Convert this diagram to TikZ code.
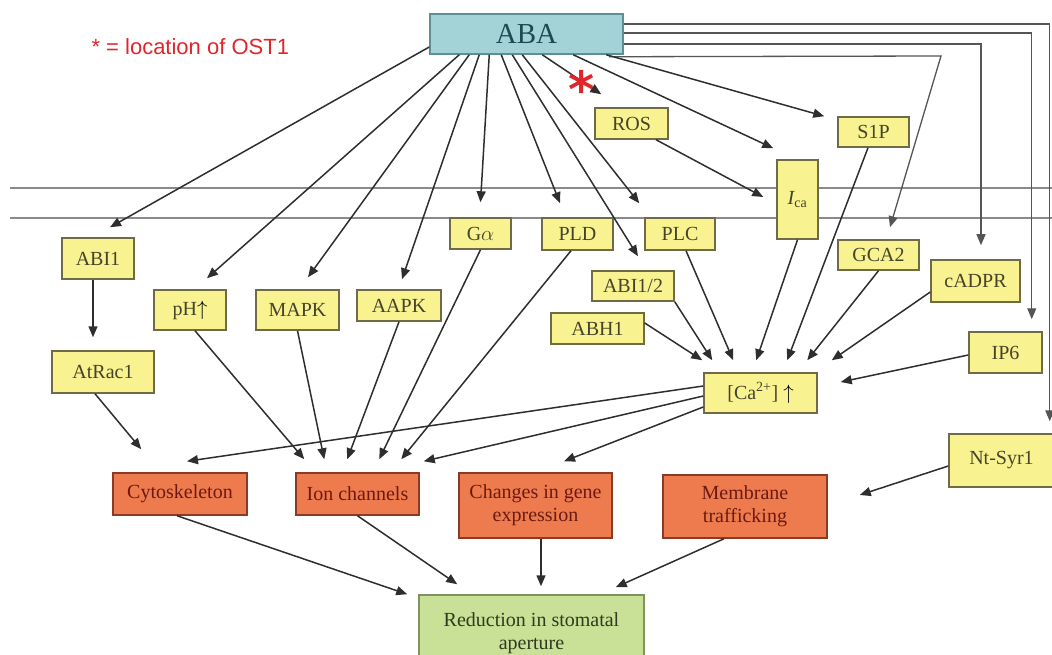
\documentclass[tikz,border=0pt]{standalone}
\usepackage{fontspec}
\setmainfont{Liberation Serif}
\newfontfamily\legendfont{Liberation Sans}
\newfontfamily\starfont{DejaVu Sans}
\usetikzlibrary{arrows.meta}
\definecolor{boxyellow}{HTML}{F8F290}
\definecolor{yellowedge}{HTML}{6E6B45}
\definecolor{yellowtext}{HTML}{45432A}
\definecolor{boxorange}{HTML}{EE7B4E}
\definecolor{orangeedge}{HTML}{8B3A28}
\definecolor{orangetext}{HTML}{6B1A12}
\definecolor{boxgreen}{HTML}{C8E196}
\definecolor{greenedge}{HTML}{7E9460}
\definecolor{greentext}{HTML}{2F3A20}
\definecolor{boxteal}{HTML}{A3D2D7}
\definecolor{tealedge}{HTML}{5E8F96}
\definecolor{tealtext}{HTML}{1E4A50}
\definecolor{legendred}{HTML}{E0252B}
\definecolor{linegray}{HTML}{2E2E2E}
\definecolor{wiregray}{HTML}{555555}
\definecolor{membgray}{HTML}{8A8A8A}

\begin{document}
\begin{tikzpicture}[x=1pt,y=-1pt,
    ybox/.style={draw=yellowedge, fill=boxyellow, line width=1.5pt, text=yellowtext,
      font=\fontsize{20}{23}\selectfont, inner sep=0pt, align=center},
    obox/.style={ybox, draw=orangeedge, fill=boxorange, text=orangetext},
    gbox/.style={ybox, draw=greenedge, fill=boxgreen, text=greentext},
    abox/.style={ybox, draw=tealedge, fill=boxteal, text=tealtext, font=\fontsize{29}{32}\selectfont},
    arr/.style={draw=linegray, line width=1.5pt, -{Triangle[length=11pt,width=9pt]}},
    wirearr/.style={arr, draw=wiregray, line width=1.3pt},
    membrane/.style={draw=membgray, line width=1.3pt}]
\useasboundingbox (0,0) rectangle (1052,655);
% 膜
\draw[membrane] (10,188) -- (1052,188);
\draw[membrane] (10,218) -- (1052,218);
% 说明
\node[anchor=base west, text=legendred, font=\legendfont\fontsize{22}{24}\selectfont] (legend) at (88,55) {* = location of OST1};
% 节点
\node[abox, minimum width=193pt, minimum height=40pt] (aba) at (526.5,34) {ABA};
\node[ybox, minimum width=73pt, minimum height=31pt] (ros) at (631.5,123.5) {ROS};
\node[ybox, minimum width=71pt, minimum height=30pt] (sip) at (873.5,132) {S1P};
\node[ybox, minimum width=41pt, minimum height=79pt] (ica) at (797.5,199.5) {{\itshape I}\textsubscript{ca}};
\node[ybox, minimum width=81pt, minimum height=30pt] (gca) at (878.5,255) {GCA2};
\node[ybox, minimum width=89pt, minimum height=42pt] (cadpr) at (975.5,281) {cADPR};
\node[ybox, minimum width=73pt, minimum height=41pt] (ipsix) at (1005.5,352.5) {IP6};
\node[ybox, minimum width=105pt, minimum height=53pt] (ntsyr) at (1001.5,460.5) {Nt-Syr1};
\node[ybox, minimum width=113pt, minimum height=40pt] (ca) at (760.5,393) {[Ca\textsuperscript{2+}] {\color{black}$\uparrow$}};
\node[ybox, minimum width=70pt, minimum height=32pt] (plc) at (680,234) {PLC};
\node[ybox, minimum width=71pt, minimum height=32pt] (pld) at (577.5,234) {PLD};
\node[ybox, minimum width=61pt, minimum height=31pt] (galpha) at (480.5,233.5) {G$\alpha$};
\node[ybox, minimum width=82pt, minimum height=30pt] (abitwo) at (633,286) {ABI1/2};
\node[ybox, minimum width=93pt, minimum height=31pt] (abh) at (597.5,328.5) {ABH1};
\node[ybox, minimum width=72pt, minimum height=41pt] (abi) at (98,258.5) {ABI1};
\node[ybox, minimum width=102pt, minimum height=42pt] (atrac) at (103,372) {AtRac1};
\node[ybox, minimum width=72pt, minimum height=40pt] (ph) at (190,310) {pH{\color{black}$\uparrow$}};
\node[ybox, minimum width=83pt, minimum height=40pt] (mapk) at (297.5,310) {MAPK};
\node[ybox, minimum width=84pt, minimum height=31pt] (aapk) at (399,305.5) {AAPK};
\node[obox, minimum width=134pt, minimum height=42pt] (cyto) at (180,494) {Cytoskeleton};
\node[obox, minimum width=123pt, minimum height=42pt] (ion) at (357.5,494) {Ion channels};
\node[obox, minimum width=153pt, minimum height=65pt] (gene) at (535.5,505.5) {Changes in gene\\expression};
\node[obox, minimum width=164pt, minimum height=63pt] (memb) at (745,506.5) {Membrane\\trafficking};
\node[gbox, minimum width=225pt, minimum height=77pt] (reduc) at (531.5,633.5) {Reduction in stomatal\\aperture};
% 右侧折线
\coordinate (bend) at (941,56);
\draw[wirearr] ([yshift=10pt]aba.east) -| ([xshift=-5pt,yshift=12pt]ntsyr.north east);
\draw[wirearr] ([yshift=1pt]aba.east) -| ([xshift=-11pt,yshift=12pt]ipsix.north east);
\draw[wirearr] ([yshift=-10pt]aba.east) -| ([xshift=5.5pt,yshift=14pt]cadpr.north);
\draw[wirearr] ([xshift=-15pt,yshift=-2pt]aba.south east) -- (bend) -- ([xshift=11.5pt,yshift=12pt]gca.north);
% ABA 出发的箭头
\draw[arr] ([yshift=-13pt]aba.west) -- ([xshift=12pt,yshift=10pt]abi.north);
\draw[arr] ([xshift=30pt]aba.south west) -- ([xshift=17pt,yshift=11pt]ph.north);
\draw[arr] ([xshift=40pt]aba.south west) -- ([xshift=10.5pt,yshift=12pt]mapk.north);
\draw[arr] ([xshift=50pt]aba.south west) -- ([xshift=3pt,yshift=10pt]aapk.north);
\draw[arr] ([xshift=60pt]aba.south west) -- ([yshift=15pt]galpha.north);
\draw[arr] ([xshift=72pt]aba.south west) -- ([xshift=-17.5pt,yshift=14pt]pld.north);
\draw[arr] ([xshift=83pt]aba.south west) -- ([xshift=5pt,yshift=14pt]abitwo.north);
\draw[arr] ([xshift=93pt]aba.south west) -- ([xshift=-5pt,yshift=14pt]plc.north west);
\draw[arr] ([xshift=113pt]aba.south west) -- ([xshift=7pt,yshift=13pt]ros.north west);
\draw[arr] ([xshift=144pt]aba.south west) -- ([xshift=-3pt,yshift=11pt]ica.north west);
\draw[arr] ([xshift=177pt]aba.south west) -- ([xshift=-13pt]sip.north west);
\draw[arr] ([xshift=24.5pt]ros.south) -- ([xshift=-13pt,yshift=2.5pt]ica.west);
\node[text=legendred, font=\starfont\bfseries\fontsize{50}{50}\selectfont, anchor=base, inner sep=0pt] (ost) at (582,108) {*};
% 汇入 Ca
\draw[arr] ([yshift=5.5pt]abh.east) -- ([xshift=-1pt,yshift=12pt]ca.north west);
\draw[arr] (abitwo.south east) -- ([xshift=9pt,yshift=12pt]ca.north west);
\draw[arr] ([xshift=6pt]plc.south) -- ([xshift=30pt,yshift=12pt]ca.north west);
\draw[arr] (ica.south) -- ([xshift=53pt,yshift=12pt]ca.north west);
\draw[arr] ([xshift=-5.5pt]sip.south) -- ([xshift=84pt,yshift=12pt]ca.north west);
\draw[arr] (gca.south) -- ([xshift=104pt,yshift=12pt]ca.north west);
\draw[arr] ([yshift=-11pt]cadpr.west) -- ([xshift=14pt,yshift=12pt]ca.north east);
\draw[arr] ([yshift=-2.5pt]ipsix.west) -- ([xshift=23pt,yshift=11pt]ca.east);
% 左侧
\draw[arr] ([xshift=-5pt]abi.south) -- ([xshift=-10pt,yshift=13pt]atrac.north);
\draw[arr] ([xshift=-8pt]atrac.south) -- ([xshift=29pt,yshift=23pt]cyto.north west);
% 汇入 Ion channels 等
\draw[arr] ([xshift=5pt]ph.south) -- ([xshift=9pt,yshift=13pt]ion.north west);
\draw[arr] (mapk.south) -- ([xshift=29pt,yshift=13pt]ion.north west);
\draw[arr] (aapk.south) -- ([xshift=52pt,yshift=13pt]ion.north west);
\draw[arr] (galpha.south) -- ([xshift=84pt,yshift=13pt]ion.north west);
\draw[arr] ([xshift=-6.5pt]pld.south) -- ([xshift=106pt,yshift=13pt]ion.north west);
\draw[arr] ([yshift=-3pt]ca.west) -- ([xshift=4pt,yshift=11pt]ion.north east);
\draw[arr] ([yshift=7pt]ca.west) -- ([xshift=7pt,yshift=11pt]cyto.north);
\draw[arr] ([yshift=-14pt]ca.west) -- ([xshift=28.5pt,yshift=11pt]gene.north);
\draw[arr] ([yshift=-5.5pt]ntsyr.west) -- ([xshift=32pt,yshift=11.5pt]memb.east);
% 汇入 Reduction
\draw[arr] ([xshift=-3pt]cyto.south) -- ([xshift=-11pt]reduc.north west);
\draw[arr] (ion.south) -- ([xshift=39pt,yshift=10pt]reduc.north west);
\draw[arr] ([xshift=5.5pt]gene.south) -- ([xshift=9.5pt,yshift=8pt]reduc.north);
\draw[arr] ([xshift=-21pt]memb.south) -- ([xshift=-29pt,yshift=7pt]reduc.north east);
\end{tikzpicture}
\end{document}
